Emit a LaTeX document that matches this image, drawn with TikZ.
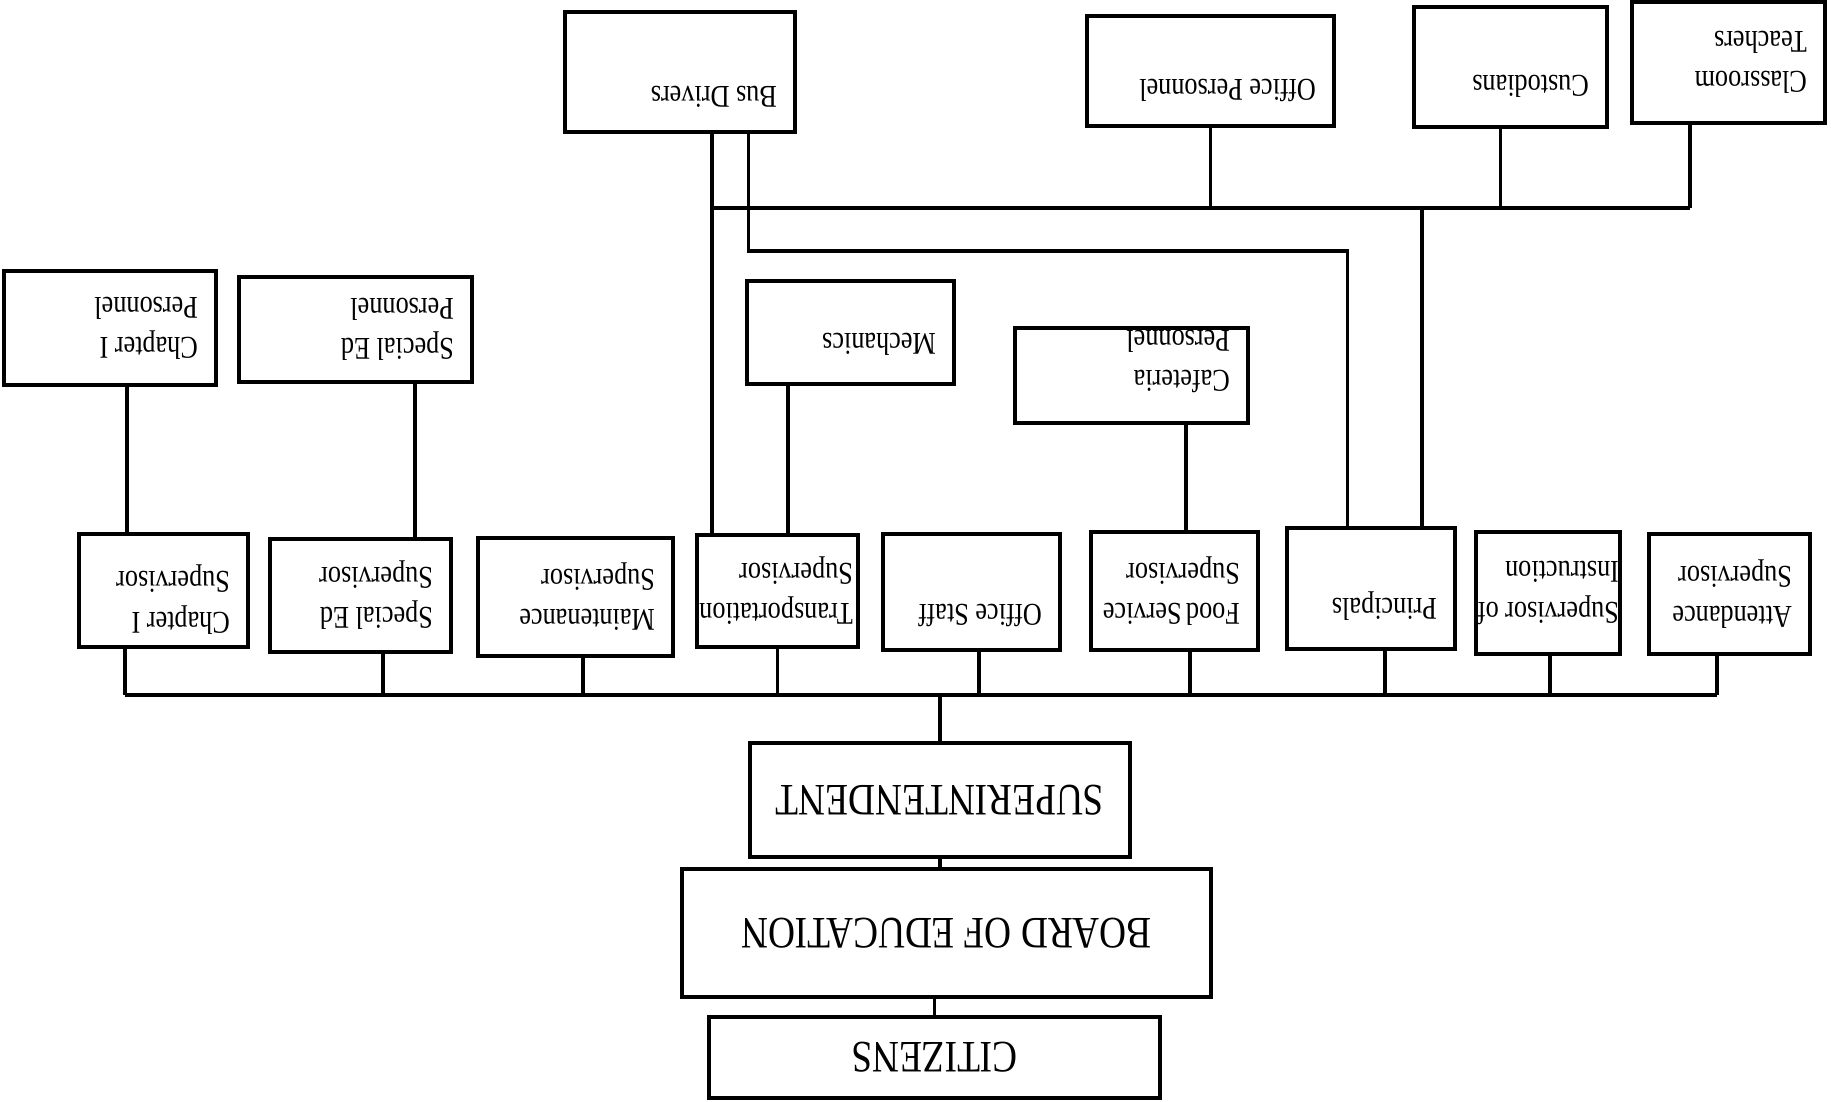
\documentclass[tikz,border=0pt]{standalone}
\usepackage{fontspec}
\setmainfont{Liberation Serif}[FakeStretch=0.83]
\hyphenpenalty=10000
\exhyphenpenalty=10000
\tikzset{
  box/.style 2 args={draw,line width=0.9pt,align=flush left,inner xsep=1.8mm,inner ysep=0pt,
    text width=#1,minimum height=#2,font=\fontsize{9}{11.4}\selectfont},
  bigbox/.style 2 args={draw,line width=0.9pt,minimum width=#1,minimum height=#2,
    font=\fontsize{12.8}{15}\selectfont},
  link/.style={line width=0.9pt}
}
\begin{document}
\begin{tikzpicture}[x=0.1mm,y=0.1mm,rotate=180,transform shape]
\useasboundingbox (0,0) rectangle (1831,1102);
% the chart is drawn upright, the whole picture is turned over
\node[bigbox={45.1mm}{8.1mm}] (cit) at (896.5,1057.5) {CITIZENS};
\node[bigbox={52.9mm}{12.8mm}] (boe) at (884.5,933) {BOARD OF EDUCATION};
\node[bigbox={38mm}{11.4mm}] (supt) at (891,800) {SUPERINTENDENT};
\coordinate (bus) at (0,695);
\coordinate (rowb) at (0,208);
\coordinate (rowc) at (0,251);

% supervisors
\node[box={13.3mm}{11.3mm},text depth=6.5mm] (chsup) at (1667.5,590.5) {Chapter~I\\Supervisor};
\node[box={14.5mm}{11.3mm}] (sesup) at (1470.5,595.5) {Special~Ed\\Supervisor};
\node[box={15.9mm}{11.8mm}] (mtsup) at (1255.5,597) {Maintenance\\Supervisor};
\node[box={15.1mm}{11.2mm},inner xsep=0.5mm] (trsup) at (1053.5,591) {Transportation\\Supervisor};
\node[box={14.1mm}{11.6mm},text height=2.2mm,text depth=4.6mm] (ofsup) at (859.5,592) {Office~Staff};
\node[box={13.1mm}{11.8mm}] (fdsup) at (656.5,591) {Food~Service\\Supervisor};
\node[box={13.2mm}{12.1mm},text height=2.2mm,text depth=4.2mm] (prin) at (460,588.5) {Principals};
\node[box={14.2mm}{12.2mm},inner xsep=0.1mm] (insup) at (283,593) {Supervisor~of\\Instruction};
\node[box={12.5mm}{12mm}] (atsup) at (101.5,594) {Attendance\\Supervisor};

% staff
\node[box={17.6mm}{11.4mm}] (chper) at (1721,328) {Chapter~I\\Personnel};
\node[box={19.7mm}{10.5mm}] (seper) at (1475.5,329.5) {Special~Ed\\Personnel};
\node[box={17.1mm}{10.3mm},text height=2.2mm,text depth=2.4mm] (mech) at (980.5,332.5) {Mechanics};
\node[box={19.7mm}{9.5mm},text height=5mm] (caf) at (699.5,375.5) {Cafeteria\\Personnel};
\node[box={19.4mm}{12mm},text height=2.2mm,text depth=5.2mm] (drv) at (1151,72) {Bus~Drivers};
\node[box={21.1mm}{11mm},text height=2.2mm,text depth=4mm] (ofper) at (620.5,71) {Office~Personnel};
\node[box={15.7mm}{12mm},text height=2.2mm,text depth=4mm] (cust) at (320.5,67) {Custodians};
\node[box={15.7mm}{12.1mm}] (teach) at (102.5,62.5) {Classroom\\Teachers};

\draw[link] (cit.south) -- (cit.south |- boe.north);
\draw[link] (supt.north) -- (supt.north |- boe.south);
\draw[link] (supt.south) -- (supt.south |- bus);
\draw[link] ([xshift=3.85mm]chsup.north |- bus) -- ([xshift=1.25mm]atsup.north |- bus);
\foreach \n/\d in {chsup/3.85,sesup/-2.25,mtsup/-0.75,trsup/0,ofsup/-0.75,fdsup/-1.55,prin/-1.4,insup/-0.2,atsup/1.25}
  \draw[link] ([xshift=\d mm]\n.north) -- ([xshift=\d mm]\n.north |- bus);

\draw[link] ([xshift=-1.7mm]chper.north) -- ([xshift=-1.7mm]chper.north |- chsup.south);
\draw[link] ([xshift=-5.95mm]seper.north) -- ([xshift=-5.95mm]seper.north |- sesup.south);
\draw[link] ([xshift=6.25mm]mech.north) -- ([xshift=6.25mm]mech.north |- trsup.south);
\draw[link] ([xshift=-5.45mm]caf.north) -- ([xshift=-5.45mm]caf.north |- fdsup.south);

% bus drivers, principals and the school staff
\draw[link] ([xshift=-3.2mm]drv.north) -- ([xshift=-3.2mm]drv.north |- trsup.south);
\draw[link] ([xshift=-6.85mm]drv.north) |- ([xshift=2.35mm]prin.south |- rowc) -- ([xshift=2.35mm]prin.south);
\draw[link] ([xshift=-3.2mm]drv.north |- rowb) -- ([xshift=3.85mm]teach.north |- rowb);
\draw[link] ([xshift=-5.1mm]prin.south) -- ([xshift=-5.1mm]prin.south |- rowb);
\draw[link] (ofper.north) -- (ofper.north |- rowb);
\draw[link] ([xshift=1mm]cust.north) -- ([xshift=1mm]cust.north |- rowb);
\draw[link] ([xshift=3.85mm]teach.north) -- ([xshift=3.85mm]teach.north |- rowb);
\end{tikzpicture}
\end{document}
